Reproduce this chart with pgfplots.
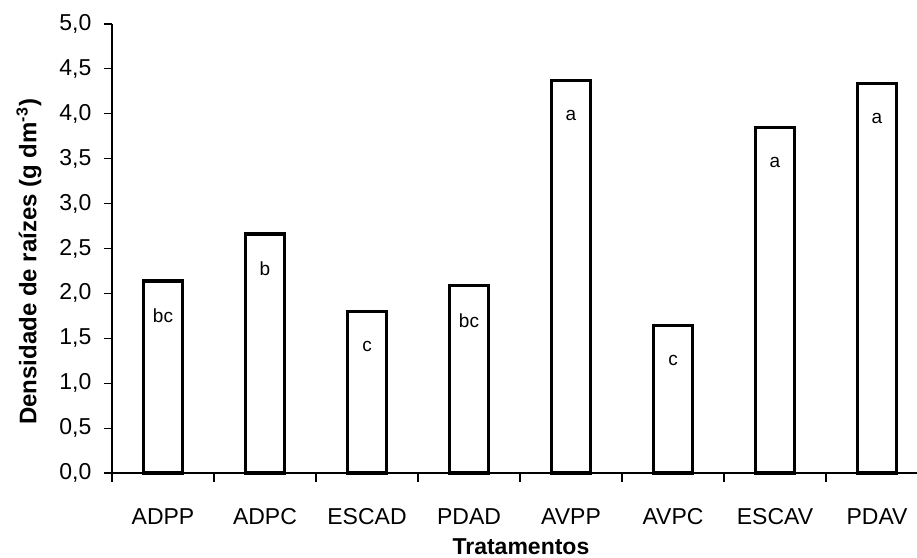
\documentclass[border=0pt]{standalone}
\usepackage{pgfplots}
\pgfplotsset{compat=1.18}
\usepackage{fontspec}
\setmainfont{Liberation Sans}
\begin{document}
\begin{tikzpicture}
\begin{axis}[
  name=ax,
  width=402.5pt, height=224.5pt, scale only axis,
  xmin=-0.5, xmax=7.392, ymin=0, ymax=5,
  axis x line*=bottom, axis y line*=left,
  axis line style={line width=0.55pt},
  ytick={0,0.5,...,5},
  yticklabel style={anchor=east, xshift=-3pt, /pgf/number format/.cd, use comma, fixed, fixed zerofill, precision=1, assume math mode=true},
  xtick={0,...,7},
  xticklabels={ADPP,ADPC,ESCAD,PDAD,AVPP,AVPC,ESCAV,PDAV},
  major x tick style={draw=none},
  minor xtick={-0.5,0.5,...,6.5},
  minor tick length=4.5pt,
  tick align=outside, major tick length=3.8pt,
  tick style={black, line width=0.55pt},
  ticklabel style={font=\fontsize{11.5}{13}\selectfont},
  xticklabel style={anchor=base, yshift=-22pt},
  xlabel={\textbf{Tratamentos}},
  ylabel={\textbf{Densidade de raízes (g dm\textsuperscript{-3})}},
  xlabel style={font=\fontsize{11.5}{13}\selectfont, at={(axis description cs:0.508,0)}, anchor=base, yshift=-41pt},
  ylabel style={font=\fontsize{12}{14}\selectfont, at={(axis description cs:-0.1031,0.47)}, anchor=center},
  ybar, bar width=19.3pt,
  nodes near coords, point meta=explicit symbolic,
  every node near coord/.style={anchor=center, yshift=-17.5pt, font=\fontsize{9.5}{11}\selectfont, black},
  clip=false,
]
\addplot[draw=black, fill=white, line width=1.7pt] table[meta=lab] {
x y lab
0 2.14 bc
1 2.66 b
2 1.80 c
3 2.09 bc
4 4.37 a
5 1.64 c
6 3.85 a
7 4.34 a
};
\end{axis}
\pgfresetboundingbox
\path ([xshift=-56pt,yshift=-42.5pt]ax.south west) rectangle ([yshift=12pt]ax.north east);
\end{tikzpicture}
\end{document}
